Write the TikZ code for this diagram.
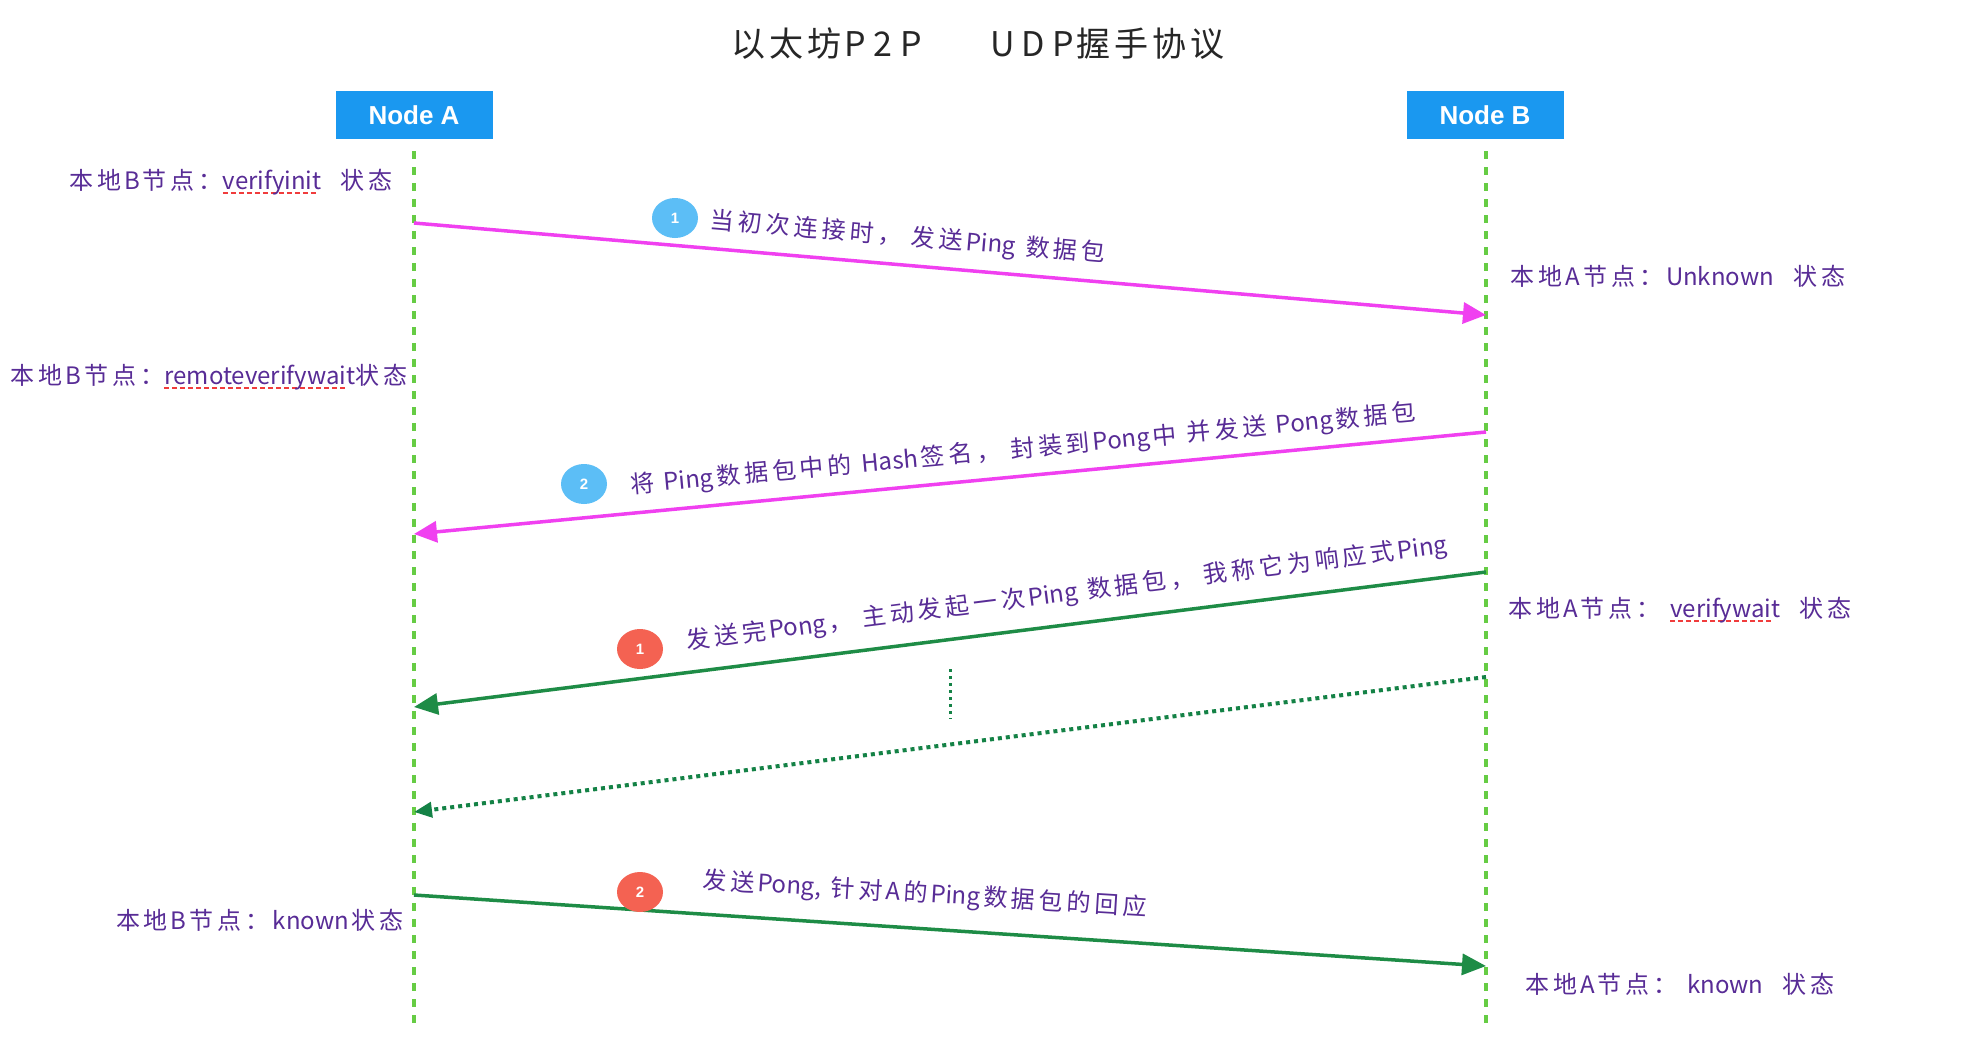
\documentclass[tikz,border=0pt]{standalone}
\usepackage{fontspec}
\usetikzlibrary{arrows.meta,shapes.geometric}
\setmainfont{Noto Sans CJK SC}[WordSpace=1.8]
\newfontfamily\boxfont{Liberation Sans}
\XeTeXinterchartokenstate=1
\newcount\cjkcnt
\cjkcnt="4E00
\loop
  \XeTeXcharclass\cjkcnt=7
  \advance\cjkcnt by 1
\ifnum\cjkcnt<"A000
\repeat
\XeTeXcharclass"FF0C=7
\XeTeXcharclass"FF1A=7
\XeTeXinterchartoks 7 7 = {\hskip 4pt\relax}
\XeTeXinterchartoks 0 7 = {\hskip 3pt\relax}
\XeTeXinterchartoks 7 0 = {\hskip 3pt\relax}
\definecolor{lblpurple}{RGB}{88,44,150}
\definecolor{magline}{RGB}{240,64,240}
\definecolor{grline}{RGB}{30,140,70}
\definecolor{dotgreen}{RGB}{20,130,70}
\definecolor{lifegreen}{RGB}{102,204,68}
\definecolor{nodeblue}{RGB}{26,152,240}
\definecolor{cblue}{RGB}{92,190,246}
\definecolor{cred}{RGB}{244,98,82}
\definecolor{ulred}{RGB}{240,60,60}
\newsavebox\ulbox
\newcommand\redul[1]{\sbox\ulbox{#1}\rlap{\textcolor{ulred}{\leaders\hbox{\rule[-5pt]{5pt}{2.5pt}\hskip3pt}\hskip\wd\ulbox}}\usebox\ulbox}
\newcommand\lsp[1]{\hskip #1pt\relax}
\begin{document}
\begin{tikzpicture}[x=1pt,y=-1pt,
  actor/.style={fill=nodeblue, minimum width=157pt, minimum height=48pt, inner sep=0pt,
    text=white, font=\boxfont\bfseries\fontsize{26}{26}\selectfont},
  lifeline/.style={lifegreen, line width=4pt, dash pattern=on 8pt off 8pt},
  msgmag/.style={magline, line width=3.5pt, -{Triangle[length=23pt,width=21pt]}},
  msggreen/.style={grline, line width=3.5pt, -{Triangle[length=24pt,width=21pt]}},
  msgdot/.style={dotgreen, line width=4pt, dash pattern=on 4pt off 4pt, -{Triangle[length=18pt,width=15pt]}},
  vdots/.style={dotgreen, line width=3pt, dash pattern=on 3pt off 4pt},
  badge/.style={ellipse, minimum width=46pt, minimum height=40pt, inner sep=0pt,
    text=white, font=\boxfont\bfseries\fontsize{15}{15}\selectfont},
  lbl/.style={text=lblpurple, font=\fontsize{24}{24}\selectfont, inner sep=0pt},
  titlestyle/.style={text=black!85, font=\fontsize{34}{34}\selectfont, inner sep=0pt}]
\fill[white] (0,0) rectangle (1968,1060);
\useasboundingbox (0,0) rectangle (1968,1060);

\node[titlestyle] (title) at (978,44) {以太坊P\lsp{8}2\lsp{8}P\hspace{68pt}U\lsp{7}D\lsp{7}P握手协议};

\node[actor] (A) at (414,115) {Node A};
\node[actor] (B) at (1485,115) {Node B};

\coordinate (Atop) at (414,151);
\coordinate (Abot) at (414,1023);
\coordinate (Btop) at (1486,151);
\coordinate (Bbot) at (1486,1023);
\draw[lifeline] (Atop) -- (Abot);
\draw[lifeline] (Btop) -- (Bbot);

\coordinate (a1) at (414,223);  \coordinate (b1) at (1486,315);
\coordinate (b2) at (1486,432); \coordinate (a2) at (414,534);
\coordinate (b3) at (1486,572); \coordinate (a3) at (414,707);
\coordinate (b4) at (1486,677); \coordinate (a4) at (414,812);
\coordinate (a5) at (414,895);  \coordinate (b5) at (1486,966);
\coordinate (v1) at (950,669);  \coordinate (v2) at (950,719);

\draw[msgmag] (a1) -- (b1);
\draw[msgmag] (b2) -- (a2);
\draw[msggreen] (b3) -- (a3);
\draw[msgdot] (b4) -- (a4);
\draw[msggreen] (a5) -- (b5);
\draw[vdots] (v1) -- (v2);

\node[badge, fill=cblue] (c1) at (675,218) {1};
\node[badge, fill=cblue] (c2) at (584,484) {2};
\node[badge, fill=cred] (c3) at (640,649) {1};
\node[badge, fill=cred] (c4) at (640,892) {2};

\node[lbl, rotate=-4.9] (t1) at (908,238) {当初次连接时，\ 发送Ping 数据包};
\node[lbl, rotate=5.3] (t2) at (1023,450) {将 Ping数据包中的 Hash签名，\ 封装到Pong中 并发送 Pong数据包};
\node[lbl, rotate=7.2] (t3) at (1067,594) {发送完Pong，\ 主动发起一次Ping 数据包，\ 我称它为响应式Ping};
\node[lbl, rotate=-3.5] (t5) at (925,895) {发送Pong, 针对A的Ping数据包的回应};

\node[lbl] (s1) at (231,182) {本地B节点：\redul{verifyinit}\ \ 状态};
\node[lbl] (s2) at (1678,276) {本地A节点：Unknown\ \ 状态};
\node[lbl] (s3) at (209,377) {本地B节点：\redul{remoteverifywait}状态};
\node[lbl] (s4) at (1680,610) {本地A节点：\ \redul{verifywait}\ \ 状态};
\node[lbl] (s5) at (260,920) {本地B节点：known状态};
\node[lbl] (s6) at (1680,984) {本地A节点：\ known\ \ 状态};
\end{tikzpicture}
\end{document}
